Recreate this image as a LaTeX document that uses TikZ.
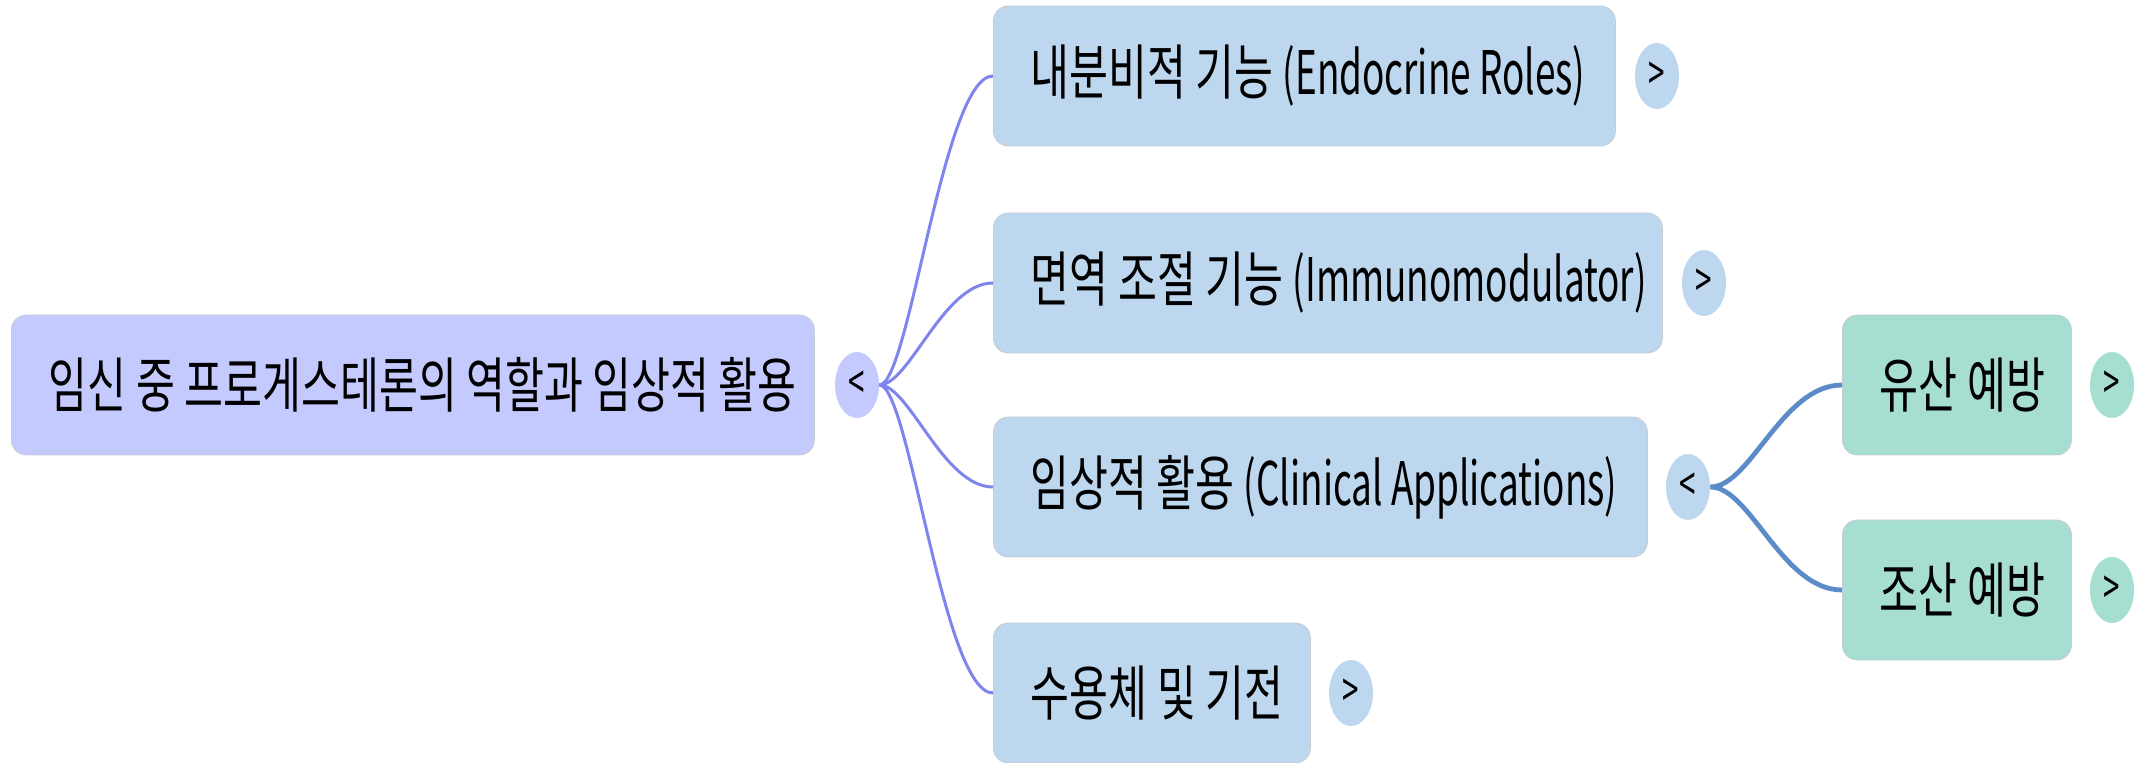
\documentclass[tikz,border=0pt]{standalone}
\usepackage{fontspec}
\setmainfont{Noto Sans CJK KR}[FakeStretch=0.705]
\newfontfamily\latn{Noto Sans CJK KR}[FakeStretch=0.615]
\usetikzlibrary{shapes.geometric}

\definecolor{rootfill}{HTML}{C4C9FE}
\definecolor{bluefill}{HTML}{BDD7EE}
\definecolor{greenfill}{HTML}{A6DED2}
\definecolor{rootline}{HTML}{7E86EE}
\definecolor{subline}{HTML}{5B8CC8}
\definecolor{edgegray}{HTML}{C8CCD4}

% left-aligned text of fixed width inside a box
\newcommand{\boxline}[2]{\makebox[#1][l]{#2}}

\begin{document}
\begin{tikzpicture}[x=0.5pt,y=-0.5pt,
  topic/.style={rectangle, rounded corners=7.5pt, draw=edgegray, line width=0.4pt,
    minimum height=70pt, inner xsep=18.5pt, inner ysep=0pt, anchor=west,
    font=\fontsize{30}{34}\selectfont},
  roottopic/.style={topic, fill=rootfill},
  bluetopic/.style={topic, fill=bluefill},
  greentopic/.style={topic, fill=greenfill},
  toggle/.style={ellipse, minimum width=22pt, minimum height=33pt, inner sep=0pt,
    font=\latn\fontsize{24}{24}\selectfont},
  rootlink/.style={draw=rootline, line width=1.5pt},
  sublink/.style={draw=subline, line width=2.4pt}]

\useasboundingbox (0,0) rectangle (2139,763);

% main topic
\node[roottopic, minimum width=401.5pt] (root) at (11,385)
  {\boxline{364pt}{임신 중 프로게스테론의 역할과 임상적 활용}};
\node[toggle, fill=rootfill] (rt) at (857,385) {<};

% first-level topics
\node[bluetopic, minimum width=311pt] (endo) at (993,76)
  {\boxline{274pt}{내분비적 기능 {\latn(Endocrine Roles)}}};
\node[toggle, fill=bluefill] (endot) at (1657,76) {>};

\node[bluetopic, minimum width=334.5pt] (immu) at (993,283)
  {\boxline{297pt}{면역 조절 기능 {\latn(Immunomodulator)}}};
\node[toggle, fill=bluefill] (immut) at (1704,283) {>};

\node[bluetopic, minimum width=327pt] (clin) at (993,487)
  {\boxline{290pt}{임상적 활용 {\latn(Clinical Applications)}}};
\node[toggle, fill=bluefill] (clint) at (1688,487) {<};

\node[bluetopic, minimum width=158.5pt] (recp) at (993,693)
  {\boxline{121pt}{수용체 및 기전}};
\node[toggle, fill=bluefill] (recpt) at (1351,693) {>};

% second-level topics
\node[greentopic, minimum width=114.5pt] (misc) at (1842,385)
  {\boxline{77pt}{유산 예방}};
\node[toggle, fill=greenfill] (misct) at (2112,385) {>};

\node[greentopic, minimum width=114.5pt] (pret) at (1842,590)
  {\boxline{77pt}{조산 예방}};
\node[toggle, fill=greenfill] (prett) at (2112,590) {>};

% connectors
\draw[rootlink] (rt.east) .. controls +(30,0) and +(-50,0) .. (endo.west);
\draw[rootlink] (rt.east) .. controls +(30,0) and +(-50,0) .. (immu.west);
\draw[rootlink] (rt.east) .. controls +(30,0) and +(-50,0) .. (clin.west);
\draw[rootlink] (rt.east) .. controls +(30,0) and +(-50,0) .. (recp.west);
\draw[sublink] (clint.east) .. controls +(40,0) and +(-60,0) .. (misc.west);
\draw[sublink] (clint.east) .. controls +(40,0) and +(-60,0) .. (pret.west);
\end{tikzpicture}
\end{document}
